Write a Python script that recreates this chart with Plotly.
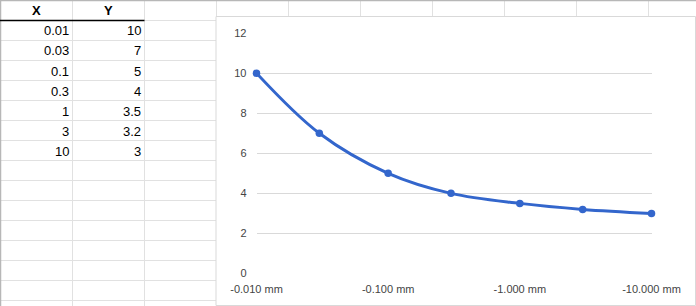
import plotly.graph_objects as go

# ---- data ----
x_values = [0.01, 0.03, 0.1, 0.3, 1, 3, 10]
y_values = [10, 7, 5, 4, 3.5, 3.2, 3]
table_headers = ["X", "Y"]
x_tick_vals = [0.01, 0.1, 1, 10]
x_tick_text = ["-0.010 mm", "-0.100 mm", "-1.000 mm", "-10.000 mm"]
y_tick_vals = [0, 2, 4, 6, 8, 10, 12]

W, H = 696, 306
FONT = "Liberation Sans, Arial, sans-serif"


def px(x):
    return x / W


def py(y):
    return 1 - y / H


shapes = []
grid_col = "#e1e1e1"
# spreadsheet column lines
col_w = 72
for i in range(1, 10):
    x = i * col_w + 0.5
    shapes.append(dict(type="line", xref="paper", yref="paper",
                       x0=px(x), x1=px(x), y0=py(0), y1=py(H),
                       line=dict(color=grid_col, width=1), layer="below"))
# spreadsheet row lines
row_h = 20
for j in range(1, 16):
    y = j * row_h + 0.5
    shapes.append(dict(type="line", xref="paper", yref="paper",
                       x0=px(0), x1=px(W), y0=py(y), y1=py(y),
                       line=dict(color=grid_col, width=1), layer="below"))
# outer borders (top / left)
shapes.append(dict(type="line", xref="paper", yref="paper",
                   x0=px(0), x1=px(W), y0=py(0.5), y1=py(0.5),
                   line=dict(color="#b7b7b7", width=1.5), layer="below"))
shapes.append(dict(type="line", xref="paper", yref="paper",
                   x0=px(0.5), x1=px(0.5), y0=py(0), y1=py(H),
                   line=dict(color="#b7b7b7", width=1.5), layer="below"))
# header underline
shapes.append(dict(type="line", xref="paper", yref="paper",
                   x0=px(0), x1=px(144.5), y0=py(20.5), y1=py(20.5),
                   line=dict(color="#000000", width=1.5), layer="below"))
# chart box
shapes.append(dict(type="rect", xref="paper", yref="paper",
                   x0=px(216), x1=px(695.5), y0=py(305.5), y1=py(16.5),
                   fillcolor="#ffffff", line=dict(color="#d9d9d9", width=1),
                   layer="below"))

annotations = []
# headers
for i, h in enumerate(table_headers):
    annotations.append(dict(text=f"<b>{h}</b>", xref="paper", yref="paper",
                            x=px(i * col_w + col_w / 2), y=py(11),
                            xanchor="center", yanchor="middle", showarrow=False,
                            font=dict(family=FONT, size=13, color="#000000")))
# values
for r, (xv, yv) in enumerate(zip(x_values, y_values)):
    ycen = py((r + 1) * row_h + 11)
    annotations.append(dict(text=f"{xv:g}", xref="paper", yref="paper",
                            x=px(71), y=ycen, xanchor="right", yanchor="middle",
                            showarrow=False,
                            font=dict(family=FONT, size=13, color="#000000")))
    annotations.append(dict(text=f"{yv:g}", xref="paper", yref="paper",
                            x=px(143), y=ycen, xanchor="right", yanchor="middle",
                            showarrow=False,
                            font=dict(family=FONT, size=13, color="#000000")))

fig = go.Figure()
fig.add_trace(go.Scatter(
    x=x_values, y=y_values, mode="lines+markers",
    line=dict(color="#3366cc", width=3, shape="spline", smoothing=1),
    marker=dict(color="#3366cc", size=7.5),
    cliponaxis=False,
    hoverinfo="skip", showlegend=False,
))

fig.update_layout(
    width=W, height=H,
    autosize=False,
    margin=dict(l=0, r=0, t=0, b=0, pad=0, autoexpand=False),
    paper_bgcolor="#ffffff",
    plot_bgcolor="rgba(0,0,0,0)",
    shapes=shapes,
    annotations=annotations,
    showlegend=False,
    xaxis=dict(
        type="log",
        domain=[px(256.5), px(651.5)],
        range=[-2, 1],
        tickvals=x_tick_vals, ticktext=x_tick_text,
        showgrid=False, zeroline=False, showline=False, ticks="",
        automargin=False,
        ticklabelstandoff=7,
        tickfont=dict(family=FONT, size=11, color="#444444"),
    ),
    yaxis=dict(
        domain=[py(273.5), py(32.5)],
        range=[0, 12.03],
        tickvals=y_tick_vals,
        showgrid=True, gridcolor="#d9d9d9", gridwidth=1,
        zeroline=False, showline=False, ticks="",
        automargin=False,
        ticklabelstandoff=9,
        tickfont=dict(family=FONT, size=11, color="#444444"),
    ),
)

fig.write_html("out.html", config={"responsive": False})
